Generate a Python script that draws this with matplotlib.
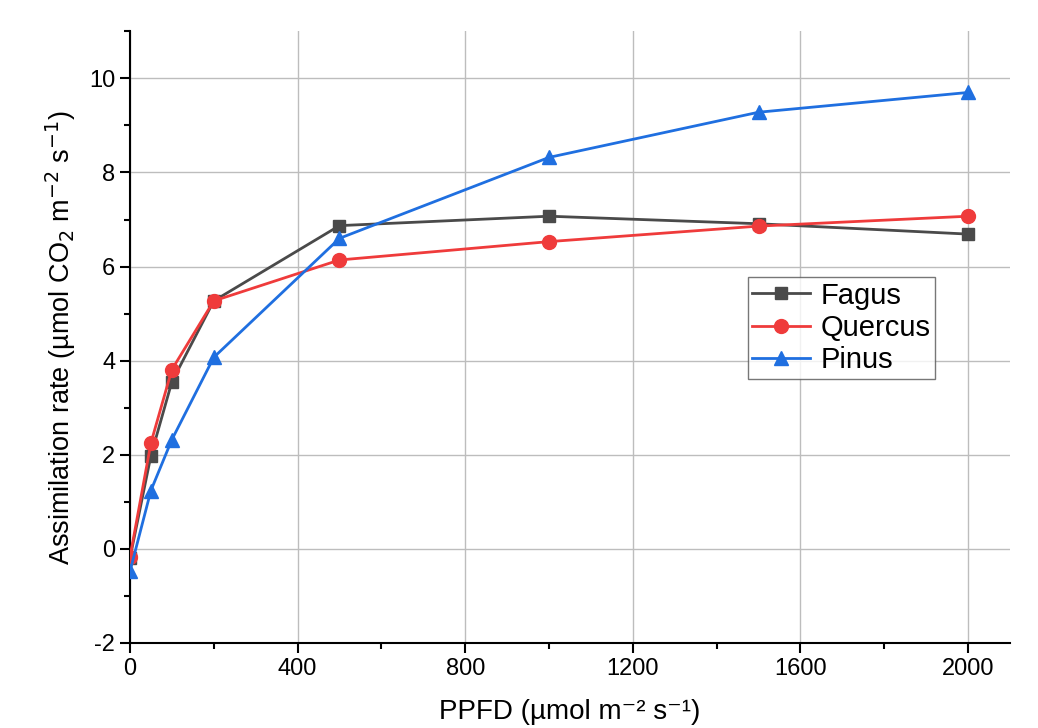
import matplotlib.pyplot as plt
from matplotlib.ticker import MultipleLocator

plt.rcParams['font.family'] = ['Liberation Sans', 'DejaVu Sans']
plt.rcParams['axes.unicode_minus'] = False

# light response data
ppfd = [0, 50, 100, 200, 500, 1000, 1500, 2000]
fagus = [-0.2, 1.98, 3.55, 5.27, 6.87, 7.07, 6.91, 6.69]
quercus = [-0.18, 2.25, 3.81, 5.27, 6.14, 6.53, 6.86, 7.07]
pinus = [-0.48, 1.24, 2.32, 4.07, 6.6, 8.32, 9.28, 9.7]

fig = plt.figure(figsize=(10.38, 7.28), dpi=100)
ax = fig.add_axes([0.1252, 0.1168, 0.8478, 0.8402])

ax.plot(ppfd, fagus, '-s', color='#4a4a4a', lw=2, ms=9, label='Fagus', zorder=3)
ax.plot(ppfd, quercus, '-o', color='#ef3b3b', lw=2, ms=10, label='Quercus', zorder=4)
ax.plot(ppfd, pinus, '-^', color='#1f6fe0', lw=2, ms=10, label='Pinus', zorder=5)

ax.set_xlim(0, 2100)
ax.set_ylim(-2, 11)
ax.xaxis.set_minor_locator(MultipleLocator(200))
ax.yaxis.set_major_locator(MultipleLocator(2))
ax.yaxis.set_minor_locator(MultipleLocator(1))
ax.set_xticks([0, 400, 800, 1200, 1600, 2000])

ax.grid(True, which='major', color='#bdbdbd', lw=1.0, zorder=0)
ax.set_axisbelow(True)

for side in ['top', 'right']:
    ax.spines[side].set_visible(False)
for side in ['left', 'bottom']:
    ax.spines[side].set_linewidth(1.5)
    ax.spines[side].set_color('black')

ax.tick_params(which='major', direction='out', length=7, width=1.5, labelsize=17)
ax.tick_params(which='minor', direction='out', length=4, width=1.5)

ax.set_xlabel('PPFD (µmol m⁻² s⁻¹)', fontsize=20, labelpad=14)
ax.set_ylabel('Assimilation rate (µmol CO$_2$ m$^{-2}$ s$^{-1}$)', fontsize=19.5, labelpad=8)

leg = ax.legend(loc='upper left', bbox_to_anchor=(0.702, 0.598), fontsize=21,
                frameon=True, fancybox=False, edgecolor='#555555',
                handlelength=2.0, borderpad=0.15, labelspacing=0.15,
                handletextpad=0.35, borderaxespad=0)
leg.get_frame().set_linewidth(1.0)

fig.savefig('out.png', dpi=100)
